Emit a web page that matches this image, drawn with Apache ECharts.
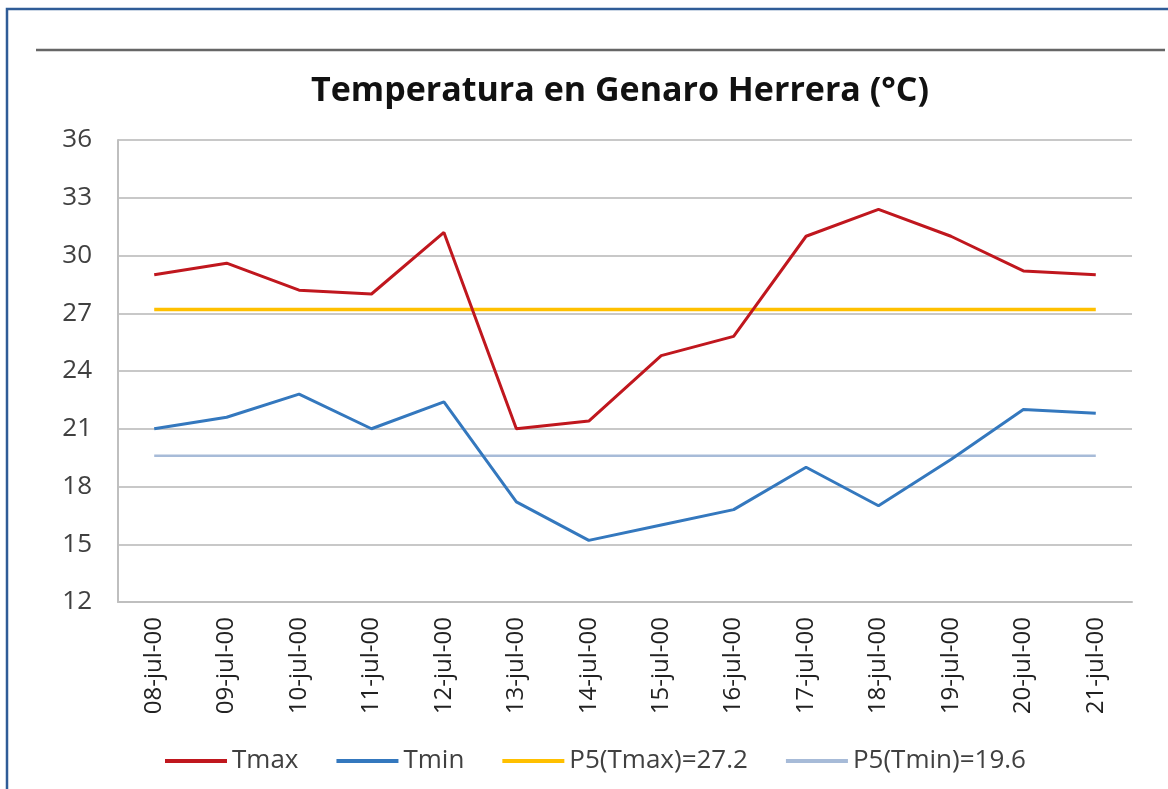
<!DOCTYPE html>
<html>
<head>
<meta charset="utf-8">
<script src="https://cdn.jsdelivr.net/npm/echarts@6/dist/echarts.min.js"></script>
<style>
html, body { margin: 0; padding: 0; background: #fff; }
#chart { width: 1168px; height: 789px; }
</style>
</head>
<body>
<div id="chart"></div>
<script>
var fechas = ['08-jul-00', '09-jul-00', '10-jul-00', '11-jul-00', '12-jul-00', '13-jul-00', '14-jul-00',
	'15-jul-00', '16-jul-00', '17-jul-00', '18-jul-00', '19-jul-00', '20-jul-00', '21-jul-00'];
var tmax = [29.0, 29.6, 28.2, 28.0, 31.2, 21.0, 21.4, 24.8, 25.8, 31.0, 32.4, 31.0, 29.2, 29.0];
var tmin = [21.0, 21.6, 22.8, 21.0, 22.4, 17.2, 15.2, 16.0, 16.8, 19.0, 17.0, 19.4, 22.0, 21.8];
var p5Tmax = 27.2;
var p5Tmin = 19.6;
var yTicks = [12, 15, 18, 21, 24, 27, 30, 33, 36];

var fuente = '"Open Sans", "Liberation Sans", sans-serif';
var myChart = echarts.init(document.getElementById('chart'));

myChart.setOption({
	animation: false,
	backgroundColor: '#fff',
	textStyle: { fontFamily: fuente },
	title: {
		text: 'Temperatura en Genaro Herrera (°C)',
		left: 615,
		textAlign: 'center',
		top: 69,
		textStyle: { fontSize: 34, fontWeight: 'bold', color: '#111', fontFamily: fuente }
	},
	// marco azul y linea gris de arriba
	graphic: [
		{ type: 'rect', shape: { x: 7, y: 9, width: 1170, height: 800 },
			style: { fill: null, stroke: '#2F5C97', lineWidth: 2.5 } },
		{ type: 'line', shape: { x1: 36, y1: 50, x2: 1165, y2: 50 },
			style: { stroke: '#666', lineWidth: 2.5 } }
	],
	legend: {
		top: 743,
		left: 160,
		itemWidth: 62,
		itemHeight: 4,
		itemGap: 38,
		icon: 'rect',
		textStyle: { fontSize: 26, color: '#404040', fontFamily: fuente },
		data: ['Tmax', 'Tmin', 'P5(Tmax)=27.2', 'P5(Tmin)=19.6']
	},
	grid: { left: 118, right: 36, top: 140, bottom: 187 },
	xAxis: {
		type: 'category',
		data: fechas,
		boundaryGap: true,
		axisLine: { lineStyle: { color: '#BFBFBF', width: 2 } },
		axisTick: { show: false },
		axisLabel: { rotate: 90, margin: 15, fontSize: 24, color: '#222', interval: 0 }
	},
	yAxis: {
		type: 'value',
		min: yTicks[0],
		max: yTicks[yTicks.length - 1],
		interval: 3,
		axisLine: { show: true, lineStyle: { color: '#BFBFBF', width: 2 } },
		axisTick: { show: false },
		axisLabel: { margin: 26, fontSize: 26, color: '#404040' },
		splitLine: { lineStyle: { color: '#C8C8C8', width: 2 } }
	},
	series: [
		{
			name: 'Tmax', type: 'line', data: tmax, showSymbol: false,
			color: '#C0171E', lineStyle: { width: 3 }, z: 4
		},
		{
			name: 'Tmin', type: 'line', data: tmin, showSymbol: false,
			color: '#3478BE', lineStyle: { width: 3 }, z: 4
		},
		{
			name: 'P5(Tmax)=27.2', type: 'line', data: fechas.map(function () { return p5Tmax; }),
			showSymbol: false, color: '#FFC000', lineStyle: { width: 3.5 }, z: 3
		},
		{
			name: 'P5(Tmin)=19.6', type: 'line', data: fechas.map(function () { return p5Tmin; }),
			showSymbol: false, color: '#A7BBD8', lineStyle: { width: 2.5 }, z: 3
		}
	]
});
</script>
</body>
</html>
